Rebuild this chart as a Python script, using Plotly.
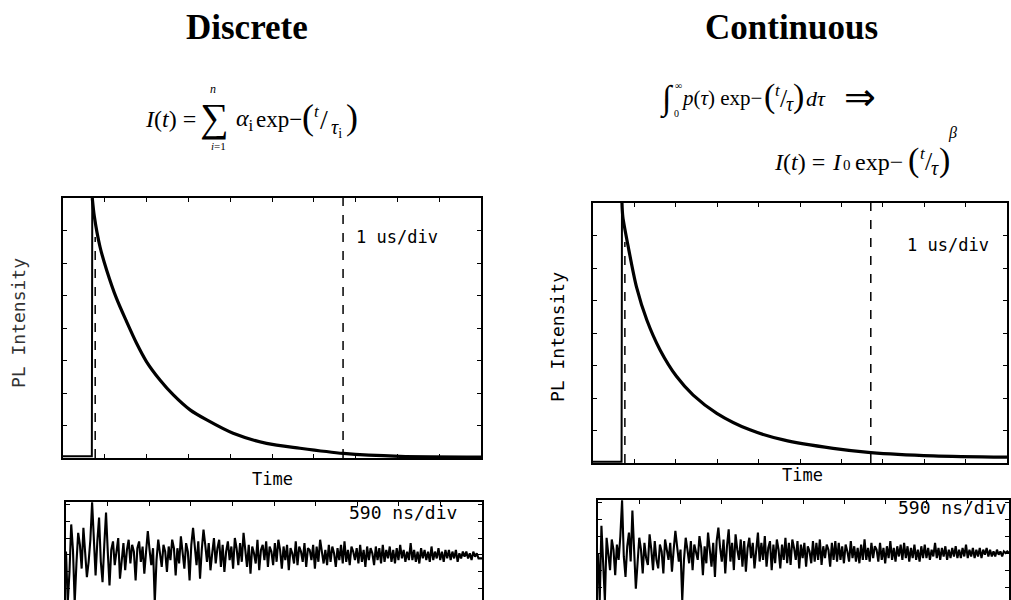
import numpy as np
import plotly.graph_objects as go

W, H = 1011, 600

# ---------------- data ----------------
# time in divisions (1 us/div), intensity in vertical divisions (0..8)
pulse_t_left = [0.0, 0.69, 0.70]
pulse_I_left = [0.05, 0.05, 8.0]
decay_t_left = [0.70, 0.75, 0.885, 1.045, 1.28, 1.52, 1.76, 2.00, 2.32, 2.64, 3.04,
                3.44, 4.07, 4.87, 5.67, 6.71, 8.06, 10.0]
decay_I_left = [8.0, 7.43, 6.50, 5.78, 4.91, 4.20, 3.53, 2.96, 2.40, 1.94, 1.48,
                1.17, 0.76, 0.45, 0.30, 0.14, 0.05, 0.03]

pulse_t_right = [0.0, 0.69, 0.70]
pulse_I_right = [0.04, 0.04, 8.0]
decay_t_right = [0.70, 0.72, 0.85, 1.05, 1.30, 1.62, 2.02, 2.42, 2.99, 3.79, 4.60,
                 5.80, 6.71, 8.22, 10.0]
decay_I_right = [8.0, 7.58, 6.66, 5.42, 4.40, 3.48, 2.66, 2.09, 1.53, 1.02, 0.71,
                 0.45, 0.32, 0.22, 0.18]

# dashed markers (time, in divisions)
marker_t_left = [0.77, 6.70]
marker_t_right = [0.77, 6.71]

# residuals (590 ns/div), arbitrary units
resid_left = [
    0.2, -2.8, -1.0, 1.8, 0.3, -2.8, -0.5, 1.3, 0.6, -0.8,
    1.6, 0.4, -1.3, -0.4, 0.9, 3.1, 0.5, -1.2, 0.8, 2.2,
    -0.4, -1.6, 0.6, 2.5, 0.2, -1.8, 0.3, 0.8, -0.6, 0.2,
    1.0, -1.4, -0.2, 0.7, -0.9, 0.3, 0.9, -0.5, 0.6, 0.2,
    -1.5, 0.4, 0.8, -0.4, 0.5, -1.1, 0.2, 1.4, 0.3, -0.6,
    0.4, -2.8, -0.3, 0.9, 0.1, -0.7, 0.6, 0.2, -1.0, 0.5,
    -0.3, 0.9, 0.4, -1.2, 0.4, -0.5, 1.1, 0.3, -0.8, 0.7,
    0.2, -1.5, 0.6, 1.6, 0.5, -0.6, 0.8, -1.4, 0.3, 1.5,
    0.6, -0.4, 0.7, -0.9, 0.1, 1.0, -0.5, 0.4, 0.9, -0.7,
    0.6, -1.0, 0.2, 0.8, -0.3, 0.5, -0.8, 1.0, 0.4, -0.6,
    0.7, -0.4, 1.3, 0.2, -0.7, 0.6, -1.1, 0.5, 0.1, -0.5,
    0.9, -0.9, 0.3, 0.6, -0.3, 0.8, -0.7, 0.5, 0.2, -0.6,
    0.7, -0.4, 0.9, 0.3, -0.8, 0.5, -0.3, 0.6, -0.9, 0.4,
    0.1, -0.5, 0.8, -0.6, 0.5, 0.2, -0.4, 0.7, -0.7, 0.4,
    0.3, -0.3, 0.6, -0.8, 0.5, -0.4, 0.9, 0.2, -0.5, 0.3,
    -0.6, 0.6, -0.4, 0.5, 0.1, -0.7, 0.4, -0.3, 0.6, -0.5,
    0.8, -0.4, 0.3, -0.6, 0.5, 0.2, -0.3, 0.4, -0.5, 0.6,
    -0.4, 0.3, -0.7, 0.5, -0.3, 0.4, 0.1, -0.6, 0.5, -0.3,
    0.4, -0.5, 0.6, -0.4, 0.3, -0.2, 0.5, -0.4, 0.3, -0.5,
    0.4, -0.3, 0.6, -0.2, 0.3, -0.4, 0.2, -0.3, 0.7, -0.3,
    0.3, -0.4, 0.2, -0.5, 0.4, -0.2, 0.3, -0.3, 0.2, -0.4,
    0.5, -0.3, 0.2, -0.2, 0.4, -0.3, 0.2, -0.4, 0.3, -0.2,
    0.3, -0.3, 0.2, -0.2, 0.3, -0.4, 0.1, -0.2, 0.2, -0.1,
    0.2, -0.2, 0.1, -0.3, 0.2, -0.1, 0.1, -0.2, -0.2, -0.2,
]
resid_right = [
    0.0, -2.8, 1.6, -0.6, -2.8, 0.9, -0.3, -1.0, 0.8, 0.2,
    -1.3, 0.5, -0.4, 1.0, 3.1, -0.2, -1.4, 0.4, 1.2, -0.5,
    2.5, 0.3, -2.1, -0.6, 0.9, 0.2, -1.2, 0.6, -0.3, -0.7,
    1.1, 0.2, -1.0, 0.7, -0.4, -0.9, 0.5, 0.1, -1.2, 0.8,
    0.3, -0.4, 0.6, -1.1, 0.2, 1.3, 0.4, -0.5, 0.2, -2.8,
    -0.4, 0.9, 0.2, -0.6, 0.7, -1.0, 0.5, 0.1, -0.4, 1.0,
    0.3, -1.3, 0.4, -0.6, 1.2, 0.2, -0.8, 0.6, -1.4, 0.7,
    1.5, 0.3, -0.5, 0.8, -1.2, 0.4, 1.4, -0.5, 0.6, -1.0,
    1.1, 0.2, -0.4, 0.8, -0.8, 0.7, -1.1, 0.3, 0.9, -0.3,
    0.6, -0.9, 0.2, 1.2, -0.5, 0.6, -0.4, 1.0, -0.8, 0.3,
    0.7, -1.0, 0.5, -0.6, 0.8, 0.2, -0.9, 0.5, -0.4, 0.9,
    -0.6, 0.6, -0.7, 0.8, 0.3, -0.4, 0.7, -0.9, 0.5, -0.3,
    0.6, -0.8, 0.4, 0.1, -0.6, 0.7, -0.5, 0.6, -0.4, 0.8,
    -0.7, 0.4, -0.3, 0.5, 0.2, -0.8, 0.6, -0.4, 0.7, -0.5,
    0.6, -0.4, 0.4, -0.6, 0.5, 0.1, -0.5, 0.7, -0.3, 0.4,
    -0.5, 0.3, -0.6, 0.5, -0.4, 0.8, -0.4, 0.3, -0.5, 0.6,
    -0.3, 0.4, 0.2, -0.5, 0.6, -0.4, 0.3, -0.6, 0.4, -0.3,
    0.7, -0.4, 0.3, -0.5, 0.4, -0.2, 0.5, -0.4, 0.6, -0.3,
    0.4, -0.5, 0.3, -0.3, 0.5, -0.4, 0.2, -0.5, 0.4, -0.3,
    0.5, -0.3, 0.3, -0.4, 0.2, -0.2, 0.6, -0.3, 0.3, -0.4,
    0.3, -0.2, 0.4, -0.4, 0.2, -0.3, 0.3, -0.2, 0.4, -0.3,
    0.2, -0.3, 0.3, -0.2, 0.5, -0.3, 0.2, -0.2, 0.3, -0.3,
    0.2, -0.2, 0.3, -0.3, 0.2, -0.1, 0.3, -0.2, 0.2, -0.2,
    0.1, -0.2, 0.2, -0.1, 0.1, -0.2, 0.1, 0.0, 0.1, 0.0,
]

# ---------------- helpers ----------------
def px(x):
    return x / W

def py(y):
    return 1 - y / H

fig = go.Figure()

fig.add_trace(go.Scatter(x=pulse_t_left, y=pulse_I_left, mode="lines",
                         line=dict(color="black", width=2), xaxis="x", yaxis="y"))
fig.add_trace(go.Scatter(x=decay_t_left, y=decay_I_left, mode="lines",
                         line=dict(color="black", width=3.2, shape="spline", smoothing=0.8),
                         xaxis="x", yaxis="y"))
fig.add_trace(go.Scatter(x=pulse_t_right, y=pulse_I_right, mode="lines",
                         line=dict(color="black", width=2), xaxis="x2", yaxis="y2"))
fig.add_trace(go.Scatter(x=decay_t_right, y=decay_I_right, mode="lines",
                         line=dict(color="black", width=3.2, shape="spline", smoothing=0.8),
                         xaxis="x2", yaxis="y2"))

rt_left = np.arange(len(resid_left)) * (10.0 / (len(resid_left) - 1))
rt_right = np.arange(len(resid_right)) * (10.0 / (len(resid_right) - 1))
fig.add_trace(go.Scatter(x=rt_left, y=resid_left, mode="lines",
                         line=dict(color="black", width=2.1), xaxis="x3", yaxis="y3"))
fig.add_trace(go.Scatter(x=rt_right, y=resid_right, mode="lines",
                         line=dict(color="black", width=2.1), xaxis="x4", yaxis="y4"))

# dashed markers
for xref, yref, ts in [("x", "y", marker_t_left), ("x2", "y2", marker_t_right)]:
    fig.add_shape(type="line", xref=xref, yref=yref, x0=ts[0], x1=ts[0], y0=0, y1=6.8,
                  line=dict(color="black", width=1.5, dash="dash"))
    fig.add_shape(type="line", xref=xref, yref=yref, x0=ts[1], x1=ts[1], y0=0, y1=8,
                  line=dict(color="black", width=1.5, dash="dash"))

common = dict(showgrid=False, zeroline=False, showticklabels=False, showline=True,
              linecolor="black", linewidth=1.6, ticks="inside", ticklen=4,
              tickcolor="black", tickwidth=1.3)

fig.update_layout(
    width=W, height=H, margin=dict(l=0, r=0, t=0, b=0),
    paper_bgcolor="white", plot_bgcolor="white", showlegend=False,
    xaxis=dict(domain=[px(63), px(481)], range=[0, 10], dtick=1, mirror="allticks", **common),
    yaxis=dict(domain=[py(458), py(198)], range=[0, 8], dtick=1, mirror="allticks", **common),
    xaxis2=dict(domain=[px(593), px(1007)], range=[0, 10], dtick=1, mirror="allticks",
                anchor="y2", **common),
    yaxis2=dict(domain=[py(463), py(203)], range=[0, 8], dtick=1, mirror="allticks",
                anchor="x2", **common),
    xaxis3=dict(domain=[px(66), px(482)], range=[0, 10], dtick=1, side="top",
                anchor="y3", **common),
    yaxis3=dict(domain=[0, py(502)], range=[-2.65, 3.12], dtick=1, tick0=0,
                mirror="allticks", anchor="x3", **common),
    xaxis4=dict(domain=[px(598), px(1009)], range=[0, 10], dtick=1, side="top",
                anchor="y4", **common),
    yaxis4=dict(domain=[0, py(500)], range=[-2.76, 3.12], dtick=1, tick0=0,
                mirror="allticks", anchor="x4", **common),
)

SERIF = "Liberation Serif, Times New Roman, serif"
MONO = "DejaVu Sans Mono, Liberation Mono, monospace"

def ann(text, x, y, size, family=SERIF, xanchor="center", yanchor="middle", angle=0, color="black"):
    fig.add_annotation(text=text, x=px(x), y=py(y), xref="paper", yref="paper",
                       showarrow=False, xanchor=xanchor, yanchor=yanchor, textangle=angle,
                       font=dict(size=size, family=family, color=color))

# titles
ann("<b>Discrete</b>", 247, 27, 35)
ann("<b>Continuous</b>", 791, 28, 35)

# formula 1
ann("<i>I</i>(<i>t</i>) =", 143, 119, 24, xanchor="left")
ann("∑", 214, 117, 40)
ann("<i>n</i>", 213, 89, 12)
ann("<i>i</i>=1", 218, 146, 11)
ann("<i>α</i><sub>i</sub>", 234, 120, 24, xanchor="left")
ann("exp−", 254, 119, 23, xanchor="left")
ann("(", 308, 117, 36)
ann("<i>t</i>", 317, 112, 17)
ann("/", 324, 120, 28)
ann("<i>τ</i><sub>i</sub>", 336, 128, 20)
ann(")", 352, 117, 36)

# formula 2, line 1
ann("∫", 667, 99, 34)
ann("∞", 678, 86, 10)
ann("0", 676, 114, 10)
ann("<i>p</i>(<i>τ</i>) exp−", 679, 98, 21, xanchor="left")
ann("(", 769, 96, 34)
ann("<i>t</i>", 778, 90, 17)
ann("/", 784, 98, 26)
ann("<i>τ</i>", 790, 104, 20)
ann(")", 798, 96, 34)
ann("<i>dτ</i>", 804, 98, 22, xanchor="left")
ann("⇒", 860, 97, 38)

# formula 2, line 2
ann("<i>I</i>(<i>t</i>) =", 772, 162, 24, xanchor="left")
ann("<i>I</i>", 837, 162, 24)
ann("0", 847, 165, 15)
ann("exp−", 853, 162, 24, xanchor="left")
ann("(", 913, 160, 34)
ann("<i>t</i>", 923, 153, 17)
ann("/", 929, 161, 26)
ann("<i>τ</i>", 935, 168, 20)
ann(")", 944, 160, 34)
ann("<i>β</i>", 952, 133, 16)

# axis labels and scale text
ann("PL Intensity", 18, 323, 18, family=MONO, angle=-90, color="#333333")
ann("PL Intensity", 557, 337, 18, family=MONO, angle=-90)
ann("Time", 272, 479, 17, family=MONO)
ann("Time", 802, 475, 17, family=MONO)
ann("1 us/div", 397, 237, 17, family=MONO)
ann("1 us/div", 948, 245, 17, family=MONO)
ann("590 ns/div", 403, 512, 18, family=MONO)
ann("590 ns/div", 1008, 507, 18, family=MONO, xanchor="right")

fig.write_html("out.html", config={"displayModeBar": False},
               post_script="document.body.style.margin='0';document.body.style.overflow='hidden';")
